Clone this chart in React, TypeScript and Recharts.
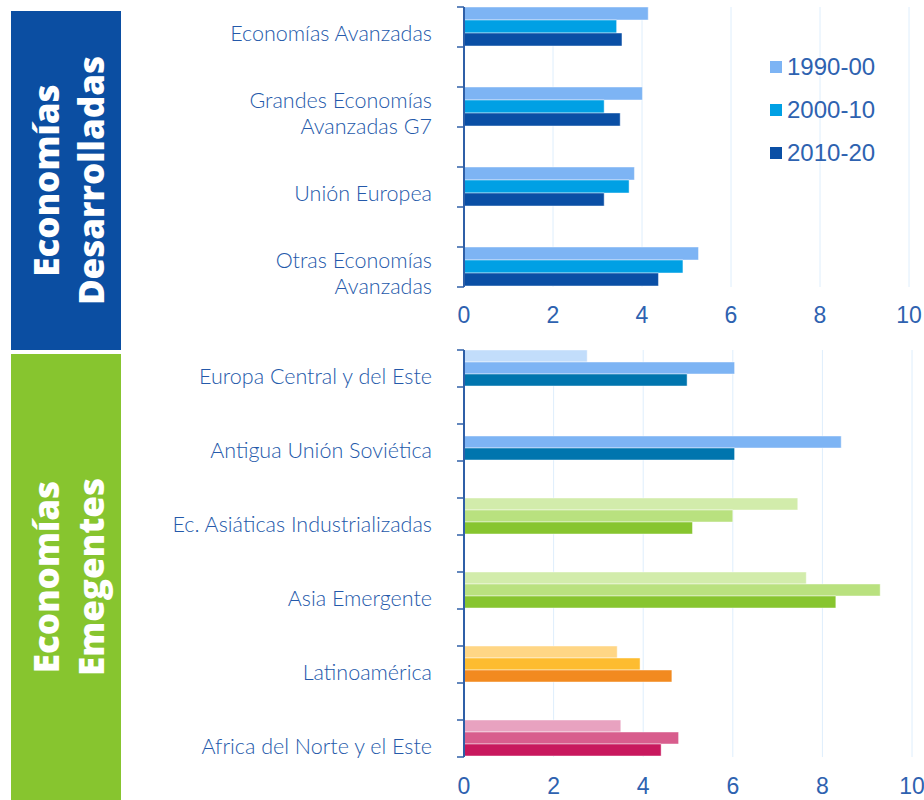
import React from 'react';
import { BarChart, Bar, XAxis, YAxis, CartesianGrid, Legend, Cell } from 'recharts';

// period names for the three series
const seriesNames = ['1990-00', '2000-10', '2010-20'];

// Economías Desarrolladas
const advancedCategories = [
  'Economías Avanzadas',
  'Grandes Economías\nAvanzadas G7',
  'Unión Europea',
  'Otras Economías\nAvanzadas',
];
const advanced1990 = [4.14, 4.01, 3.83, 5.27];
const advanced2000 = [3.43, 3.15, 3.71, 4.92];
const advanced2010 = [3.55, 3.51, 3.15, 4.37];

// Economías Emegentes
const emergingCategories = [
  'Europa Central y del Este',
  'Antigua Unión Soviética',
  'Ec. Asiáticas Industrializadas',
  'Asia Emergente',
  'Latinoamérica',
  'Africa del Norte y el Este',
];
const emerging1990 = [2.75, null, 7.45, 7.64, 3.42, 3.5];
const emerging2000 = [6.04, 8.42, 6.0, 9.29, 3.93, 4.79];
const emerging2010 = [4.98, 6.04, 5.1, 8.3, 4.64, 4.4];

const xTicks = [0, 2, 4, 6, 8, 10];

const TOP_COLORS = ['#7db4f4', '#00a0e4', '#0a4fa5'];
// one palette per emerging region, light -> dark
const EMERGING_COLORS = [
  ['#c2ddfb', '#7db4f4', '#0075ae'],
  ['#c2ddfb', '#7db4f4', '#0075ae'],
  ['#d2ecab', '#b9e17f', '#87c52f'],
  ['#d2ecab', '#b9e17f', '#87c52f'],
  ['#ffd685', '#fdbc30', '#f28a20'],
  ['#e8a2c0', '#d85d8d', '#c8185d'],
];

const AXIS_COLOR = '#2f5fa7';
const TEXT_COLOR = '#2e62b0';
const LABEL_COLOR = '#2459aa';
const GRID_COLOR = '#deeefc';
const LABEL_FONT = 'Lato, "Open Sans", sans-serif';
const NUM_FONT = '"Liberation Sans", Arial, sans-serif';

const advancedData = advancedCategories.map((name, i) => ({
  name,
  p1990: advanced1990[i],
  p2000: advanced2000[i],
  p2010: advanced2010[i],
}));

const emergingData = emergingCategories.map((name, i) => ({
  name,
  p1990: emerging1990[i],
  p2000: emerging2000[i],
  p2010: emerging2010[i],
}));

const CategoryTick = (props: any) => {
  const { x, y, payload, half, shift } = props;
  const lines = String(payload.value).split('\n');
  const axisX = x + 32;
  const lineH = 26;
  const y0 = y + shift - ((lines.length - 1) * lineH) / 2;
  return (
    <g>
      <line x1={axisX - 7} x2={axisX} y1={y - half} y2={y - half} stroke={AXIS_COLOR} strokeWidth={1.5} />
      <line x1={axisX - 7} x2={axisX} y1={y + half} y2={y + half} stroke={AXIS_COLOR} strokeWidth={1.5} />
      <text textAnchor="end" fill={LABEL_COLOR} fontSize={21.5} fontWeight={300} fontFamily={LABEL_FONT}>
        {lines.map((l, i) => (
          <tspan key={i} x={x} y={y0 + i * lineH} dy="0.35em">
            {l}
          </tspan>
        ))}
      </text>
    </g>
  );
};

const LegendList = (props: any) => (
  <div style={{ display: 'flex', flexDirection: 'column' }}>
    {(props.payload || []).map((e: any) => (
      <div key={e.value} style={{ display: 'flex', alignItems: 'center', height: 43 }}>
        <span style={{ width: 12, height: 12, background: e.color, marginRight: 5, display: 'inline-block' }} />
        <span style={{ fontFamily: NUM_FONT, fontSize: 24, color: TEXT_COLOR }}>{e.value}</span>
      </div>
    ))}
  </div>
);

const numTick = { fill: TEXT_COLOR, fontSize: 23, fontFamily: NUM_FONT };

const SidePanel = ({ top, height, color, lines }: { top: number; height: number; color: string; lines: string[] }) => {
  const cy = height / 2;
  const baselines = [48, 93];
  return (
    <div style={{ position: 'absolute', left: 11, top, width: 110, height, background: color }}>
      <svg width={110} height={height}>
        {lines.map((l, i) => (
          <text
            key={l}
            x={baselines[i]}
            y={cy}
            transform={`rotate(-90 ${baselines[i]} ${cy})`}
            textAnchor="middle"
            fill="#ffffff"
            fontSize={35}
            fontWeight={800}
            fontFamily='"Open Sans", sans-serif'
          >
            {l}
          </text>
        ))}
      </svg>
    </div>
  );
};

const App: React.FC = () => {
  return (
    <div style={{ position: 'absolute', left: 0, top: 0, width: 924, height: 800, background: '#fff', overflow: 'hidden' }}>
      <SidePanel top={11} height={339} color="#0b4ea2" lines={['Economías', 'Desarrolladas']} />
      <SidePanel top={354} height={446} color="#87c52f" lines={['Economías', 'Emegentes']} />

      <div style={{ position: 'absolute', left: 0, top: 0 }}>
        <BarChart
          width={924}
          height={340}
          data={advancedData}
          layout="vertical"
          margin={{ top: 7, right: 15, bottom: 13, left: 0 }}
          barCategoryGap={20}
          barGap={0}
        >
          <CartesianGrid horizontal={false} stroke={GRID_COLOR} />
          <XAxis
            type="number"
            domain={[0, 10]}
            ticks={xTicks}
            axisLine={false}
            tickLine={false}
            tickSize={0}
            tickMargin={20}
            height={40}
            tick={numTick}
          />
          <XAxis xAxisId="top" orientation="top" type="number" domain={[0, 10]} height={0} tick={false} tickLine={false} axisLine={{ stroke: '#bcdaf6' }} />
          <YAxis
            type="category"
            dataKey="name"
            width={464}
            padding={{ top: -20, bottom: -20 }}
            axisLine={{ stroke: AXIS_COLOR, strokeWidth: 2 }}
            tickLine={false}
            tickSize={6}
            tickMargin={26}
            interval={0}
            tick={(p: any) => <CategoryTick {...p} half={20} shift={6} />}
          />
          <Legend
            layout="horizontal"
            verticalAlign="middle"
            align="center"
            content={<LegendList />}
            wrapperStyle={{ left: 770, top: 45, width: 'auto' }}
          />
          <Bar dataKey="p1990" name={seriesNames[0]} fill={TOP_COLORS[0]} stroke="rgba(255,255,255,0.45)" isAnimationActive={false} />
          <Bar dataKey="p2000" name={seriesNames[1]} fill={TOP_COLORS[1]} stroke="rgba(255,255,255,0.45)" isAnimationActive={false} />
          <Bar dataKey="p2010" name={seriesNames[2]} fill={TOP_COLORS[2]} stroke="rgba(255,255,255,0.45)" isAnimationActive={false} />
        </BarChart>
      </div>

      <div style={{ position: 'absolute', left: 0, top: 340 }}>
        <BarChart
          width={924}
          height={460}
          data={emergingData}
          layout="vertical"
          margin={{ top: 10, right: 12, bottom: 0, left: 0 }}
          barCategoryGap={18.5}
          barGap={0}
        >
          <CartesianGrid horizontal={false} stroke={GRID_COLOR} />
          <XAxis
            type="number"
            domain={[0, 10]}
            ticks={xTicks}
            axisLine={false}
            tickLine={false}
            tickSize={0}
            tickMargin={21}
            height={43}
            tick={numTick}
          />
          <XAxis xAxisId="top" orientation="top" type="number" domain={[0, 10]} height={0} tick={false} tickLine={false} axisLine={{ stroke: AXIS_COLOR, strokeWidth: 2 }} />
          <YAxis
            type="category"
            dataKey="name"
            width={464}
            padding={{ top: -18.5, bottom: -18.5 }}
            axisLine={{ stroke: AXIS_COLOR, strokeWidth: 2 }}
            tickLine={false}
            tickSize={6}
            tickMargin={26}
            interval={0}
            tick={(p: any) => <CategoryTick {...p} half={18.5} shift={8} />}
          />
          {['p1990', 'p2000', 'p2010'].map((key, s) => (
            <Bar key={key} dataKey={key} name={seriesNames[s]} stroke="rgba(255,255,255,0.45)" isAnimationActive={false}>
              {emergingData.map((d, i) => (
                <Cell key={d.name} fill={EMERGING_COLORS[i][s]} />
              ))}
            </Bar>
          ))}
        </BarChart>
      </div>
    </div>
  );
};

export default App;
